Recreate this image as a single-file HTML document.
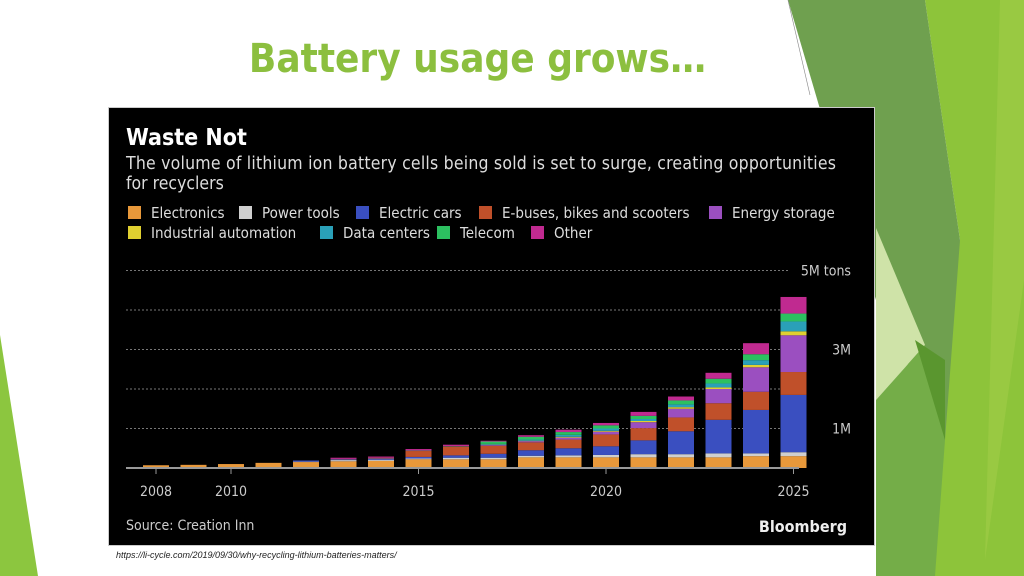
<!DOCTYPE html>
<html><head><meta charset="utf-8"><style>
body{margin:0;width:1024px;height:576px;overflow:hidden;background:#fff;font-family:"Liberation Sans","DejaVu Sans",sans-serif;position:relative}
#title{position:absolute;left:0;width:955px;top:36px;text-align:center;font-size:40px;font-weight:bold;color:#8cbf3f;font-family:"DejaVu Sans Condensed","Liberation Sans Narrow","Liberation Sans",sans-serif}
#chart{position:absolute;left:108px;top:107px;width:767px;height:439px;background:#000;border:1px solid #ccc;box-sizing:border-box}
#url{position:absolute;left:116px;top:550px;font-size:9px;font-style:italic;color:#222}
svg text{font-family:"DejaVu Sans Condensed","DejaVu Sans",sans-serif}
</style></head><body>
<svg width="1024" height="576" style="position:absolute;left:0;top:0">
<polygon points="0,335 38,576 0,576" fill="#8cc63f"/>
<polygon points="925,0 1024,0 1024,576 876,576 876,470 960,240" fill="#8dc43a"/>
<polygon points="1000,0 1024,0 1024,280 985,560" fill="#9ccb45" opacity="0.8"/>
<polygon points="788,0 925,0 960,240 945,440 876,300" fill="#6fa04f"/>
<polygon points="876,228 925,345 876,400" fill="#cfe3a8"/>
<polygon points="876,400 925,345 945,440 935,576 876,576" fill="#74ad48"/>
<polygon points="915,340 945,360 945,440" fill="#5a962f"/>
<line x1="788" y1="0" x2="810" y2="95" stroke="#888" stroke-width="0.6"/>
</svg>
<div id="title">Battery usage grows…</div>
<div id="chart">
<svg id="svg" width="767" height="439">
<text x="17" y="37" fill="#fff" font-size="23" font-weight="bold">Waste Not</text>
<text x="17" y="61" fill="#ddd" font-size="17.5" textLength="710">The volume of lithium ion battery cells being sold is set to surge, creating opportunities</text>
<text x="17" y="81" fill="#ddd" font-size="17.5">for recyclers</text>
<g id="legend"></g>
<g id="grid"></g><g id="bars"></g><g id="axis"></g>
<text x="17" y="422" fill="#ccc" font-size="14">Source: Creation Inn</text>
<text x="738" y="424" fill="#eee" font-size="16" font-weight="bold" text-anchor="end">Bloomberg</text>
</svg>
</div>
<div id="url">https://li-cycle.com/2019/09/30/why-recycling-lithium-batteries-matters/</div>
<script>
const years=[2008,2009,2010,2011,2012,2013,2014,2015,2016,2017,2018,2019,2020,2021,2022,2023,2024,2025];
const seriesNames=["Electronics","Power tools","Electric cars","E-buses, bikes and scooters","Energy storage","Industrial automation","Data centers","Telecom","Other"];
const colors=["#e8983a","#cfcfcf","#3a4fc0","#c0502a","#9b4fc0","#e0d030","#2aa0b8","#2cc060","#c02a90"];
const electronics=[0.07,0.08,0.1,0.13,0.15,0.17,0.18,0.22,0.22,0.22,0.27,0.27,0.27,0.27,0.27,0.27,0.3,0.3];
const powerTools=[0,0,0,0,0.01,0.03,0.03,0.02,0.04,0.04,0.04,0.05,0.06,0.08,0.08,0.1,0.07,0.1];
const electricCars=[0,0,0,0,0.03,0.02,0.03,0.04,0.06,0.1,0.14,0.18,0.22,0.35,0.58,0.85,1.1,1.45];
const eBuses=[0,0,0,0,0,0.01,0.02,0.15,0.22,0.2,0.2,0.22,0.3,0.31,0.35,0.42,0.46,0.58];
const energyStorage=[0,0,0,0,0,0,0,0,0,0.02,0.03,0.05,0.07,0.15,0.22,0.36,0.62,0.93];
const industrial=[0,0,0,0,0,0,0,0,0,0.01,0.01,0.02,0.02,0.03,0.04,0.04,0.06,0.1];
const dataCenters=[0,0,0,0,0,0,0,0,0,0.02,0.03,0.05,0.06,0.05,0.07,0.1,0.12,0.25];
const telecom=[0,0,0,0,0,0,0,0.01,0.01,0.06,0.07,0.07,0.08,0.08,0.1,0.12,0.15,0.2];
const other=[0,0,0,0,0,0.03,0.03,0.04,0.04,0.02,0.04,0.06,0.06,0.1,0.1,0.15,0.28,0.42];
const gridVals=[1,2,3,4,5];
const gridLabels={1:"1M",3:"3M",5:"5M tons"};
const tickYears=[2008,2010,2015,2020,2025];
const series=[electronics,powerTools,electricCars,eBuses,energyStorage,industrial,dataCenters,telecom,other];
const NS="http://www.w3.org/2000/svg";
const X=y=>47+(y-2008)*37.5, Y=v=>360-v*39.5;
function mk(t,a,p){const e=document.createElementNS(NS,t);for(const k in a)e.setAttribute(k,a[k]);p.appendChild(e);return e;}
const grid=document.getElementById('grid');
gridVals.forEach(v=>{const l=mk('line',{x1:17,x2:680,y1:Y(v),y2:Y(v),stroke:'#777','stroke-dasharray':'2,2','stroke-width':1},grid);


if(gridLabels[v]){const t=mk('text',{x:742,y:Y(v)+5,fill:'#ccc','font-size':14,'text-anchor':'end'},grid);t.textContent=gridLabels[v];

}});
const bars=document.getElementById('bars');
years.forEach((yr,i)=>{let acc=0;series.forEach((s,j)=>{const v=s[i];if(v<=0)return;
const r=mk('rect',{x:X(yr)-13,width:26,y:Y(acc+v),height:v*39.5,fill:colors[j]},bars);


acc+=v;});});
const ax=document.getElementById('axis');
const al=mk('line',{x1:17,x2:690,y1:360,y2:360,stroke:'#999','stroke-width':2},ax);


tickYears.forEach(y=>{mk('line',{x1:X(y),x2:X(y),y1:360,y2:366,stroke:'#999'},ax);
const t=mk('text',{x:X(y),y:388,fill:'#ccc','font-size':14,'text-anchor':'middle'},ax);t.textContent=y;

});
const lg=document.getElementById('legend');
const pos=[[17,110],[128,110],[245,110],[368,110],[598,110],[17,130],[209,130],[326,130],[420,130]];
seriesNames.forEach((n,i)=>{const g=mk('g',{},lg);


mk('rect',{x:pos[i][0]+2,y:pos[i][1]-12,width:13,height:13,fill:colors[i]},g);
const t=mk('text',{x:pos[i][0]+25,y:pos[i][1],fill:'#ddd','font-size':15},g);t.textContent=n;});
</script>
</body></html>
